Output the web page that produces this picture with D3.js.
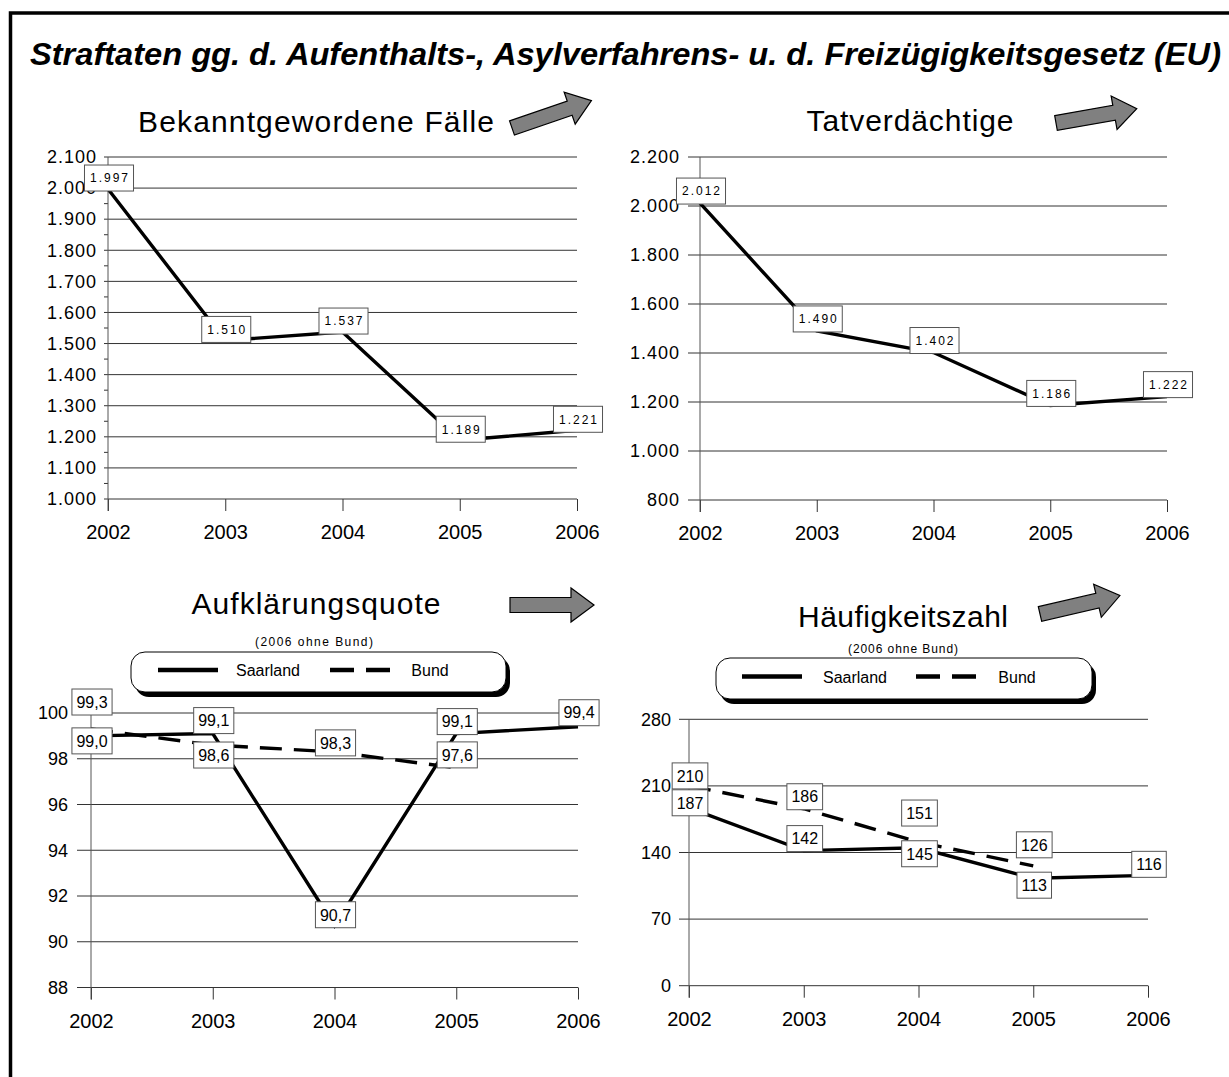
<!DOCTYPE html>
<html>
<head>
<meta charset="utf-8">
<script src="https://cdn.jsdelivr.net/npm/d3@7"></script>
<style>
  body { margin: 0; background: #fff; }
  svg { display: block; font-family: "Liberation Sans", Arial, sans-serif; }
</style>
</head>
<body>
<svg id="chart" width="1229" height="1077"></svg>
<script>
// <!-- DATA -->
var years = [2002, 2003, 2004, 2005, 2006];

var faelle = [1997, 1510, 1537, 1189, 1221];
var tatverdaechtige = [2012, 1490, 1402, 1186, 1222];
var aqSaarland = [99.0, 99.1, 90.7, 99.1, 99.4];
var aqBund = [99.3, 98.6, 98.3, 97.6, null];   // 2006 ohne Bund
var hzSaarland = [187, 142, 145, 113, 116];
var hzBund = [210, 186, 151, 126, null];

var faelleTicks = [1000, 1100, 1200, 1300, 1400, 1500, 1600, 1700, 1800, 1900, 2000, 2100];
var tvTicks = [800, 1000, 1200, 1400, 1600, 1800, 2000, 2200];
var aqTicks = [88, 90, 92, 94, 96, 98, 100];
var hzTicks = [0, 70, 140, 210, 280];

var seriesNames = ["Saarland", "Bund"];
var mainTitle = "Straftaten gg. d. Aufenthalts-, Asylverfahrens- u. d. Freizügigkeitsgesetz (EU)";
var subTitle = "(2006 ohne Bund)";

// german number format (1.997 / 99,3)
var de = d3.formatLocale({ decimal: ",", thousands: ".", grouping: [3], currency: ["", " €"] });
var fmtInt = de.format(",d");
var fmtDec = de.format(",.1f");

// <!-- LAYOUT OF THE FOUR PANELS -->
var panels = [
  {
    title: "Bekanntgewordene Fälle", titleX: 316, titleY: 132, titleW: 356,
    xRange: [108, 577], yRange: [499, 157], ticks: faelleTicks, minor: true,
    tickLen: 4, tickPad: 7, fmt: fmtInt, labelSize: 12, labelSpacing: 2,
    series: [{ values: faelle, dash: null, dy: [-11, -11, -11, -11, -11] }],
    arrow: { x: 512, y: 128, angle: -19, len: 84 }
  },
  {
    title: "Tatverdächtige", titleX: 910, titleY: 131, titleW: 207,
    xRange: [700, 1167], yRange: [500, 157], ticks: tvTicks, minor: false,
    tickLen: 12, tickPad: 8, fmt: fmtInt, labelSize: 12, labelSpacing: 2,
    series: [{ values: tatverdaechtige, dash: null, dy: [-12, -12, -12, -12, -12] }],
    arrow: { x: 1056, y: 123, angle: -10, len: 82 }
  },
  {
    title: "Aufklärungsquote", titleX: 316, titleY: 614, titleW: 249,
    xRange: [91, 578], yRange: [987.5, 713], ticks: aqTicks, minor: false,
    tickLen: 14, tickPad: 9, fmt: fmtDec, labelSize: 16, labelSpacing: 0,
    series: [
      { values: aqSaarland, dash: null, dy: [5, -13, -11, -12, -14] },
      { values: aqBund, dash: "22,12", dy: [-27, 10, -9, -13] }
    ],
    legend: { x: 131, y: 652, w: 375, h: 40, line1: 158, text1: 268, line2: 330, text2: 430 },
    subY: 646, subX: 314, subW: 118,
    arrow: { x: 510, y: 605, angle: 0, len: 84 }
  },
  {
    title: "Häufigkeitszahl", titleX: 903, titleY: 627, titleW: 210,
    xRange: [689, 1148], yRange: [985.7, 719.3], ticks: hzTicks, minor: false,
    tickLen: 10, tickPad: 8, fmt: fmtInt, labelSize: 16, labelSpacing: 0,
    series: [
      { values: hzSaarland, dash: null, dy: [-5, -12, 6, 7, -11] },
      { values: hzBund, dash: "22,12", dy: [-10, -12, -29, -21] }
    ],
    legend: { x: 716, y: 658, w: 376, h: 41, line1: 742, text1: 855, line2: 916, text2: 1017 },
    subY: 653, subX: 903, subW: 110,
    arrow: { x: 1040, y: 614, angle: -13, len: 82 }
  }
];

var svg = d3.select('#chart');

svg.append('rect')
  .attr('width', 1229).attr('height', 1077)
  .attr('fill', '#fff');

// outer frame (runs off the right and bottom edge)
svg.append('rect')
  .attr('x', 10.5).attr('y', 13)
  .attr('width', 1300).attr('height', 1200)
  .attr('fill', 'none')
  .attr('stroke', '#000')
  .attr('stroke-width', 3.5);

var title = svg.append('text')
  .attr('x', 30).attr('y', 65)
  .attr('font-size', 31)
  .attr('font-weight', 'bold')
  .attr('font-style', 'italic')
  .text(mainTitle);
// squeeze the title to the width of the original
title.attr('textLength', 1191).attr('lengthAdjust', 'spacingAndGlyphs');

// block arrow pointing along +x, tail centre at 0,0
function arrowPoints(len) {
  var h = 7.5, hw = 17, hl = 23;
  return [[0, -h], [len - hl, -h], [len - hl, -hw], [len, 0], [len - hl, hw], [len - hl, h], [0, h]];
}

panels.forEach(function (p) {
  var g = svg.append('g');

  var x = d3.scalePoint().domain(years).range(p.xRange);
  var y = d3.scaleLinear().domain(d3.extent(p.ticks)).range(p.yRange);
  var x0 = p.xRange[0], x1 = p.xRange[1];

  // title + arrow
  g.append('text')
    .attr('x', p.titleX).attr('y', p.titleY)
    .attr('text-anchor', 'middle')
    .attr('font-size', 30)
    .attr('textLength', p.titleW)
    .attr('lengthAdjust', 'spacing')
    .text(p.title);

  g.append('path')
    .attr('d', d3.line()(arrowPoints(p.arrow.len)) + 'Z')
    .attr('transform', 'translate(' + p.arrow.x + ',' + p.arrow.y + ') rotate(' + p.arrow.angle + ')')
    .attr('fill', '#808080')
    .attr('stroke', '#000')
    .attr('stroke-width', 1.2)
    .attr('stroke-linejoin', 'miter');

  // gridlines
  g.selectAll('.grid')
    .data(p.ticks)
    .enter()
    .append('line')
    .attr('x1', x0 - p.tickLen).attr('x2', x1)
    .attr('y1', function (d) { return y(d); })
    .attr('y2', function (d) { return y(d); })
    .attr('stroke', '#333')
    .attr('stroke-width', 1);

  // y axis labels
  var yAxis = d3.axisLeft(y)
    .tickValues(p.ticks)
    .tickFormat(p.fmt === fmtDec ? de.format('d') : p.fmt)
    .tickSize(0)
    .tickPadding(p.tickLen + p.tickPad);
  var ya = g.append('g')
    .attr('transform', 'translate(' + x0 + ',0)')
    .call(yAxis);
  ya.select('.domain').remove();
  ya.selectAll('text')
    .attr('font-family', null)
    .attr('font-size', 18)
    .attr('fill', '#000')
    .attr('letter-spacing', p.labelSpacing ? 1 : 0);

  // minor ticks
  if (p.minor) {
    var minors = p.ticks.slice(1).map(function (d, i) { return (d + p.ticks[i]) / 2; });
    g.selectAll('.minor')
      .data(minors)
      .enter()
      .append('line')
      .attr('x1', x0 - 4).attr('x2', x0)
      .attr('y1', function (d) { return y(d); })
      .attr('y2', function (d) { return y(d); })
      .attr('stroke', '#333');
  }

  // x axis
  var xAxis = d3.axisBottom(x).tickSize(12).tickPadding(14);
  var xa = g.append('g')
    .attr('transform', 'translate(0,' + p.yRange[0] + ')')
    .call(xAxis);
  xa.select('.domain').remove();
  xa.selectAll('line').attr('stroke', '#333');
  xa.selectAll('text')
    .attr('font-family', null)
    .attr('font-size', 20)
    .attr('fill', '#000');

  // vertical axis line
  g.append('line')
    .attr('x1', x0).attr('x2', x0)
    .attr('y1', p.yRange[1]).attr('y2', p.yRange[0] + 12)
    .attr('stroke', '#555');

  // lines
  p.series.forEach(function (s) {
    var line = d3.line()
      .defined(function (d) { return d != null; })
      .x(function (d, i) { return x(years[i]); })
      .y(function (d) { return y(d); });
    g.append('path')
      .attr('d', line(s.values))
      .attr('fill', 'none')
      .attr('stroke', '#000')
      .attr('stroke-width', 3.4)
      .attr('stroke-dasharray', s.dash);
  });

  // data labels on top
  p.series.forEach(function (s) {
    s.values.forEach(function (v, i) {
      if (v == null) return;
      var lg = g.append('g')
        .attr('transform', 'translate(' + (x(years[i]) + 1) + ',' + (y(v) + s.dy[i]) + ')');
      var box = lg.append('rect');
      var t = lg.append('text')
        .attr('text-anchor', 'middle')
        .attr('dy', '0.36em')
        .attr('font-size', p.labelSize)
        .attr('letter-spacing', p.labelSpacing)
        .text(p.fmt(v));
      var w = t.node().getComputedTextLength() + 9;
      t.attr('dx', p.labelSpacing / 2);
      box.attr('x', -w / 2).attr('y', -13)
        .attr('width', w).attr('height', 26)
        .attr('fill', '#fff')
        .attr('stroke', '#555')
        .attr('stroke-width', 1);
    });
  });

  // legend with shadow
  if (p.legend) {
    var L = p.legend;
    g.append('text')
      .attr('x', p.subX).attr('y', p.subY)
      .attr('text-anchor', 'middle')
      .attr('font-size', 12)
      .attr('textLength', p.subW)
      .attr('lengthAdjust', 'spacing')
      .text(subTitle);

    g.append('rect')
      .attr('x', L.x + 4).attr('y', L.y + 5)
      .attr('width', L.w).attr('height', L.h)
      .attr('rx', 14)
      .attr('fill', '#000');
    g.append('rect')
      .attr('x', L.x).attr('y', L.y)
      .attr('width', L.w).attr('height', L.h)
      .attr('rx', 14)
      .attr('fill', '#fff')
      .attr('stroke', '#000');

    var ly = L.y + L.h / 2 - 2;
    [[L.line1, L.text1, null], [L.line2, L.text2, '24,12']].forEach(function (it, i) {
      g.append('line')
        .attr('x1', it[0]).attr('x2', it[0] + 60)
        .attr('y1', ly).attr('y2', ly)
        .attr('stroke', '#000')
        .attr('stroke-width', 4.5)
        .attr('stroke-dasharray', it[2]);
      g.append('text')
        .attr('x', it[1]).attr('y', ly + 6)
        .attr('text-anchor', 'middle')
        .attr('font-size', 16)
        .text(seriesNames[i]);
    });
  }
});
</script>
</body>
</html>
